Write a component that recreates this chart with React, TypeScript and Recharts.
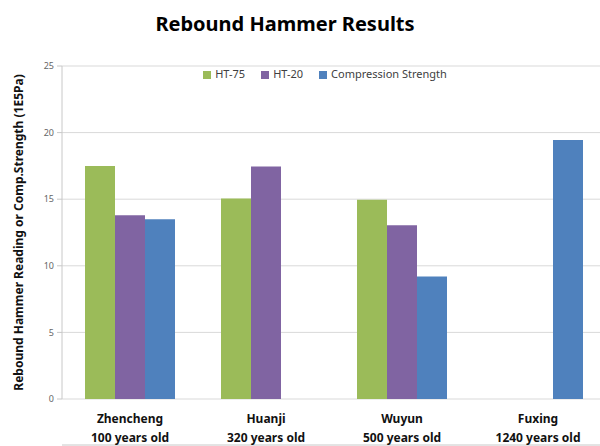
import React from 'react';
import { BarChart, Bar, XAxis, YAxis, CartesianGrid, Legend } from 'recharts';

const sites = ['Zhencheng', 'Huanji', 'Wuyun', 'Fuxing'];
const ages = ['100 years old', '320 years old', '500 years old', '1240 years old'];
const ht75 = [17.5, 15.05, 14.95, null];
const ht20 = [13.8, 17.45, 13.05, null];
const compStrength = [13.5, null, 9.2, 19.45];
const seriesNames = ['HT-75', 'HT-20', 'Compression Strength'];
const yTicks = [0, 5, 10, 15, 20, 25];
const boundaryTicks = [0, 1, 2, 3, 4];

const data = sites.map((s, i) => ({
    site: s,
    age: ages[i],
    ht75: ht75[i],
    ht20: ht20[i],
    comp: compStrength[i],
}));

const FONT = '"Noto Sans", sans-serif';

const SiteTick = (props: any) => {
    const { x, y, payload, index } = props;
    return (
        <g transform={`translate(${x},${y})`}>
            <text textAnchor="middle" fontFamily={FONT} fontSize={12} fontWeight="bold" fill="#111">
                <tspan x={0} dy={16}>{payload.value}</tspan>
                <tspan x={0} dy={19}>{ages[index]}</tspan>
            </text>
        </g>
    );
};

const YLabel = (props: any) => {
    const { viewBox } = props;
    const cy = viewBox.y + viewBox.height / 2;
    return (
        <text
            x={18}
            y={cy}
            transform={`rotate(-90, 18, ${cy})`}
            textAnchor="middle"
            dominantBaseline="central"
            fontFamily={FONT}
            fontSize={12}
            fontWeight="bold"
            fill="#111"
        >
            Rebound Hammer Reading or Comp.Strength (1E5Pa)
        </text>
    );
};

export default function App() {
    return (
        <div style={{ position: 'absolute', left: 0, top: 0, width: 600, height: 446, overflow: 'hidden', background: '#fff' }}>
            <div style={{ position: 'absolute', top: 10, left: 0, width: 570, textAlign: 'center', fontFamily: FONT, fontSize: 20, fontWeight: 'bold', color: '#000' }}>
                Rebound Hammer Results
            </div>
            <BarChart
                width={620}
                height={446}
                data={data}
                margin={{ top: 51, right: 14, left: 0, bottom: 0 }}
                barSize={30}
                barGap={0}
            >
                <CartesianGrid vertical={false} stroke="#d9d9d9" />
                <XAxis
                    xAxisId="b"
                    type="number"
                    domain={[0, 4]}
                    ticks={boundaryTicks}
                    tick={false}
                    tickSize={5}
                    height={1}
                    axisLine={{ stroke: '#c8c8c8' }}
                    tickLine={{ stroke: '#c8c8c8' }}
                />
                <XAxis
                    dataKey="site"
                    height={46}
                    axisLine={false}
                    tickLine={false}
                    tick={<SiteTick />}
                    interval={0}
                />
                <YAxis
                    domain={[0, 25]}
                    ticks={yTicks}
                    width={62}
                    tickSize={5}
                    tickMargin={3}
                    axisLine={{ stroke: '#c8c8c8' }}
                    tickLine={{ stroke: '#c8c8c8' }}
                    tick={{ fill: '#666', fontSize: 9, fontFamily: FONT }}
                    label={<YLabel />}
                />
                <Legend
                    verticalAlign="top"
                    iconType="square"
                    iconSize={8}
                    itemSorter={(item: any) => seriesNames.indexOf(item.value)}
                    wrapperStyle={{ top: 66, left: 60, width: 540, fontFamily: FONT, fontSize: 11 }}
                    formatter={(v: string) => (
                        <span style={{ color: '#404040', paddingRight: v === seriesNames[2] ? 0 : 6 }}>{v}</span>
                    )}
                />
                <Bar dataKey="ht75" name={seriesNames[0]} fill="#9BBB59" isAnimationActive={false} />
                <Bar dataKey="ht20" name={seriesNames[1]} fill="#8064A2" isAnimationActive={false} />
                <Bar dataKey="comp" name={seriesNames[2]} fill="#4F81BD" isAnimationActive={false} />
            </BarChart>
        </div>
    );
}
